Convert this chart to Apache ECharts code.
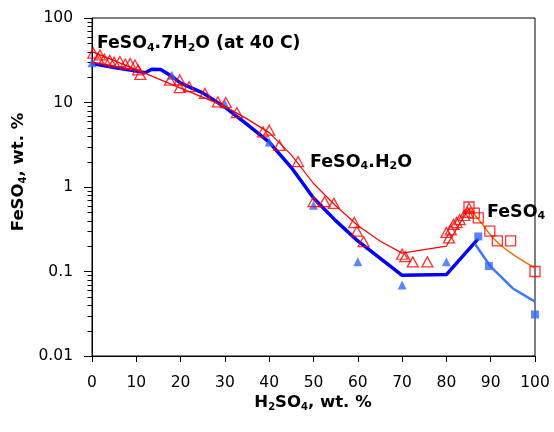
<!DOCTYPE html>
<html>
<head>
<meta charset="utf-8">
<script src="https://cdn.jsdelivr.net/npm/echarts@6/dist/echarts.min.js"></script>
<style>
html,body{margin:0;padding:0;background:#fff;}
#chart{width:554px;height:432px;}
</style>
</head>
<body>
<div id="chart"></div>
<script>
// ---- data (x = H2SO4 wt.%, y = FeSO4 wt.%) ----
const xTicks = [0, 10, 20, 30, 40, 50, 60, 70, 80, 90, 100];
const yTicks = [0.01, 0.1, 1, 10, 100];

// experimental FeSO4 hydrates (red open triangles)
const redTriangles = [
  [0.3, 38.5], [1.4, 33.5], [1.8, 36.5], [2.8, 32.5], [4, 31.5], [5, 30], [6.3, 30.5],
  [7.5, 28.5], [8.6, 29], [9.7, 27.8], [10.4, 24.3], [10.9, 21.5],
  [17.6, 18.4], [19.8, 18.5], [19.8, 15], [21.9, 15.4], [25.5, 12.8],
  [28.4, 10.2], [30.2, 10], [32.7, 7.6], [38.6, 4.5], [40, 4.7], [42.3, 3.1],
  [46.5, 2.0], [50, 0.67], [52.5, 0.67], [54.6, 0.64], [59.2, 0.38], [59.8, 0.30],
  [61.3, 0.225], [70, 0.16], [70.7, 0.15], [72.4, 0.13], [75.7, 0.13],
  [80, 0.29], [80.6, 0.25], [81, 0.31], [81.6, 0.36], [82.3, 0.38], [83, 0.41],
  [84, 0.46], [84.8, 0.5], [85.1, 0.56]
];
// model line for hydrates (thin red)
const redLine = [
  [0, 40], [10, 24.5], [20, 14.8], [30, 9], [35, 6.4], [40, 4.4], [45, 2.4],
  [50, 1.1], [55, 0.6], [60, 0.35], [65, 0.23], [70, 0.165], [80, 0.2], [85, 0.55]
];
// anhydrous FeSO4 (red open squares) and its line (orange)
const redSquares = [[85.1, 0.58], [86.3, 0.49], [87.2, 0.43], [89.8, 0.3], [91.5, 0.23], [94.5, 0.23], [100, 0.1]];
const orangeLine = [[85.3, 0.55], [88, 0.37], [90, 0.27], [92, 0.21], [95, 0.16], [100, 0.11]];

// second data set (blue filled triangles) and its thick line
const blueTriangles = [[0, 29.5], [18, 21], [30, 9.6], [40, 3.4], [50, 0.61], [60, 0.13], [70, 0.069], [80, 0.13]];
const blueLine = [
  [0, 29], [5, 26], [10, 23.5], [12, 22.5], [13.5, 24.8], [15.5, 24.6], [18, 20.5],
  [20, 17], [25, 13], [30, 8.8], [35, 5.5], [40, 3.4], [45, 1.7], [50, 0.74],
  [55, 0.4], [60, 0.23], [70, 0.09], [80, 0.092], [87.2, 0.245]
];
// anhydrous, second set (blue filled squares) and light blue line
const blueSquares = [[87.2, 0.26], [89.6, 0.116], [100, 0.031]];
const lightBlueLine = [[86.5, 0.21], [90, 0.114], [95, 0.063], [100, 0.044]];

// minor tick values of the log axis (2..9 in each decade)
const minorTicks = [];
[0.01, 0.1, 1, 10].forEach(d => { for (let k = 2; k <= 9; k++) minorTicks.push(+(d * k).toPrecision(3)); });

const FONT = "'DejaVu Sans', Verdana, sans-serif";
const subRich = (size) => ({
  n: { fontSize: size, fontWeight: 'bold', fontFamily: FONT, color: '#000', lineHeight: size + 2, verticalAlign: 'middle' },
  s: { fontSize: Math.round(size * 0.62), fontWeight: 'bold', fontFamily: FONT, color: '#000', lineHeight: Math.round(size * 0.5), verticalAlign: 'bottom' }
});

const chart = echarts.init(document.getElementById('chart'), null, { renderer: 'canvas' });
chart.setOption({
  backgroundColor: '#fff',
  animation: false,
  grid: { left: 92, right: 19, top: 18, bottom: 76, show: true, borderColor: '#000', borderWidth: 1, backgroundColor: 'transparent' },
  xAxis: {
    type: 'value', min: 0, max: 100, interval: 10,
    axisLine: { show: true, lineStyle: { color: '#000', width: 1 } },
    axisTick: { show: true, inside: false, length: 6, lineStyle: { color: '#000' } },
    axisLabel: { show: true, margin: 19, color: '#000', fontSize: 15.5, fontFamily: FONT },
    splitLine: { show: false }
  },
  yAxis: {
    type: 'log', logBase: 10, min: 0.01, max: 100,
    axisLine: { show: true, lineStyle: { color: '#000', width: 1 } },
    axisTick: { show: true, inside: false, length: 8, lineStyle: { color: '#000' } },
    axisLabel: { show: true, margin: 19, color: '#000', fontSize: 15.5, fontFamily: FONT,
      formatter: v => String(+(+v).toPrecision(3)) },
    splitLine: { show: false }
  },
  graphic: [
    { type: 'text', x: 19, y: 172, rotation: Math.PI / 2,
      style: { text: '{n|FeSO}{s|4}{n|, wt. %}', rich: subRich(16.5), align: 'center', verticalAlign: 'middle' } },
    { type: 'text', x: 313, y: 403,
      style: { text: '{n|H}{s|2}{n|SO}{s|4}{n|, wt. %}', rich: subRich(16.5), align: 'center', verticalAlign: 'middle' } },
    { type: 'text', x: 97, y: 44,
      style: { text: '{n|FeSO}{s|4}{n|.7H}{s|2}{n|O (at 40 C)}', rich: subRich(17.3), align: 'left', verticalAlign: 'middle' } },
    { type: 'text', x: 310, y: 162,
      style: { text: '{n|FeSO}{s|4}{n|.H}{s|2}{n|O}', rich: subRich(17.5), align: 'left', verticalAlign: 'middle' } },
    { type: 'text', x: 487, y: 212,
      style: { text: '{n|FeSO}{s|4}', rich: subRich(17.5), align: 'left', verticalAlign: 'middle' } }
  ],
  series: [
    { type: 'custom', silent: true, clip: false, z: 1,
      data: minorTicks.map(v => [0, v]),
      renderItem: (params, api) => {
        const p = api.coord([api.value(0), api.value(1)]);
        const y = Math.round(p[1]) + 0.5;
        return { type: 'line', shape: { x1: p[0] - 4.5, y1: y, x2: p[0], y2: y },
          style: { stroke: '#000', lineWidth: 1 } };
      } },
    { type: 'line', data: blueLine, symbol: 'none', smooth: false, lineStyle: { color: '#0000ff', width: 3.5 }, z: 2 },
    { type: 'line', data: lightBlueLine, symbol: 'none', smooth: false, lineStyle: { color: '#3a78ff', width: 2.5 }, z: 2 },
    { type: 'scatter', data: blueTriangles, symbol: 'triangle', symbolSize: [9, 9], itemStyle: { color: '#3366ff' }, z: 3 },
    { type: 'scatter', data: blueSquares, symbol: 'rect', symbolSize: 8, itemStyle: { color: '#3366ff' }, z: 3 },
    { type: 'line', data: orangeLine, symbol: 'none', smooth: true, lineStyle: { color: '#ff6a00', width: 1.5 }, z: 4 },
    { type: 'line', data: redLine, symbol: 'none', smooth: false, lineStyle: { color: '#ff0000', width: 1.2 }, z: 4 },
    { type: 'scatter', data: redTriangles, symbol: 'triangle', symbolSize: [11, 10],
      itemStyle: { color: 'rgba(0,0,0,0)', borderColor: '#ff0000', borderWidth: 1.3 }, z: 5 },
    { type: 'scatter', data: redSquares, symbol: 'rect', symbolSize: 10,
      itemStyle: { color: 'rgba(0,0,0,0)', borderColor: '#ff0000', borderWidth: 1.3 }, z: 5 }
  ]
});
</script>
</body>
</html>
